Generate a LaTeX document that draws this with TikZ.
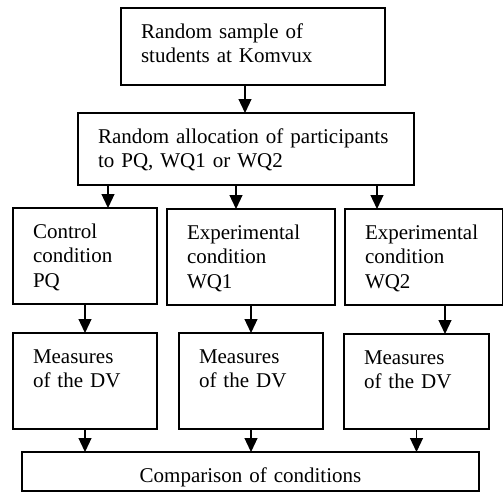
\documentclass[tikz,border=0pt]{standalone}
\usepackage{fontspec}
\setmainfont{Liberation Serif}
\usepackage{tikz}
\usetikzlibrary{arrows.meta, positioning}

\begin{document}
\begin{tikzpicture}[x=1pt, y=1pt,
  box/.style={draw, line width=1.6pt, anchor=north west, align=left, outer sep=0pt,
              font=\fontsize{21}{24.5}\selectfont, inner xsep=20pt, inner ysep=0pt,
              text height=30pt},
  arr/.style={line width=1.2pt, -{Triangle[length=14pt, width=13pt]}},
]
\useasboundingbox (0,0) rectangle (504,-501);

% Sampling and allocation
\node[box, text width=224pt, text depth=47pt] (sample) at (121,-8) {Random sample of\\students at Komvux};
\node[box, text width=296pt, text depth=42pt] (alloc) at (78,-113) {Random allocation of participants\\to PQ, WQ1 or WQ2};

% Conditions
\node[box, text width=104pt, text depth=66pt] (ctrl) at (13,-208) {Control\\condition\\PQ};
\node[box, text width=128pt, text depth=66pt] (expA) at (167,-209) {Experimental\\condition\\WQ1};
\node[box, text width=117.5pt, text depth=66pt] (expB) at (345,-209) {Experimental\\condition\\WQ2};

% Measures
\node[box, text width=104pt, text depth=66pt] (measA) at (13,-333) {Measures\\of the DV};
\node[box, text width=104pt, text depth=66pt] (measB) at (179,-333) {Measures\\of the DV};
\node[box, text width=105pt, text depth=65pt] (measC) at (344,-334) {Measures\\of the DV};

% Comparison
\node[box, align=center, inner xsep=0pt, text width=457pt, text depth=9pt] (comp) at (22,-452) {Comparison of conditions};

% Arrows
\draw[arr] ([xshift=-8pt]sample.south) -- ([xshift=-8pt]sample.south |- alloc.north);
\draw[arr] ([xshift=23pt]ctrl.north |- alloc.south) -- ([xshift=23pt]ctrl.north);
\draw[arr] ([xshift=-15pt]expA.north |- alloc.south) -- ([xshift=-15pt]expA.north);
\draw[arr] ([xshift=-46.75pt]expB.north |- alloc.south) -- ([xshift=-46.75pt]expB.north);
\draw[arr] (ctrl.south) -- (ctrl.south |- measA.north);
\draw[arr] (expA.south) -- (expA.south |- measB.north);
\draw[arr] ([xshift=28.5pt]measC.north |- expB.south) -- ([xshift=28.5pt]measC.north);
\draw[arr] (measA.south) -- (measA.south |- comp.north);
\draw[arr] (measB.south) -- (measB.south |- comp.north);
\draw[arr] (measC.south) -- (measC.south |- comp.north);
\end{tikzpicture}
\end{document}
